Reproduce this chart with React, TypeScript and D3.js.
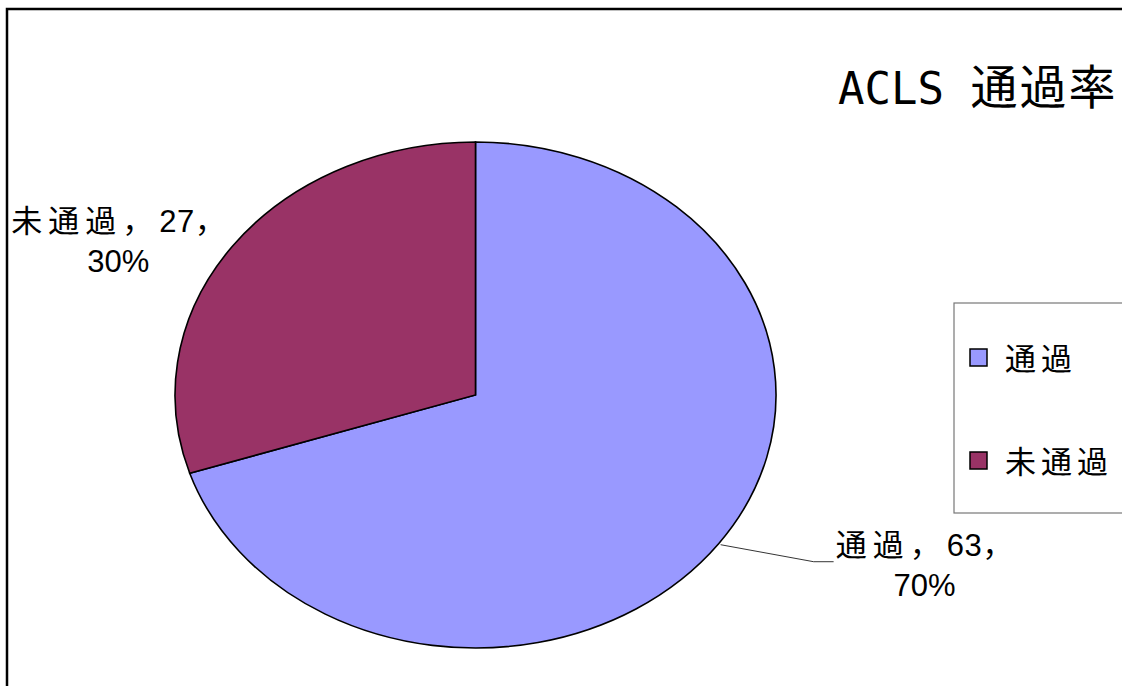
import { useEffect, useRef } from "react";
import * as d3 from "d3";

const categories = ["通過", "未通過"];
const counts = [63, 27];
const percents = ["70%", "30%"];
const COLORS = ["#9999ff", "#993366"];
const TITLE_LATIN = "ACLS ";
const TITLE_CJK = "通過率";

const W = 1122;
const H = 686;

type Datum = { name: string; value: number; pct: string };

export default function App() {
  const svgRef = useRef<SVGSVGElement>(null);

  useEffect(() => {
    if (!svgRef.current) return;
    const svg = d3.select(svgRef.current);
    svg.selectAll("*").remove();

    const labelFont = "'Liberation Sans', 'Noto Sans CJK JP', sans-serif";

    // chart area border
    svg
      .append("rect")
      .attr("x", 7)
      .attr("y", 9)
      .attr("width", W + 20)
      .attr("height", H + 20)
      .attr("fill", "#fff")
      .attr("stroke", "#000")
      .attr("stroke-width", 2.5);

    // title
    const title = svg
      .append("text")
      .attr("x", 838)
      .attr("y", 104)
      .attr("font-family", "'DejaVu Sans Mono', 'Noto Sans CJK JP', monospace")
      .attr("fill", "#000");
    title.append("tspan").attr("font-size", "44px").text(TITLE_LATIN);
    title
      .append("tspan")
      .attr("font-family", "'Noto Sans CJK JP', sans-serif")
      .attr("font-size", "47px")
      .attr("letter-spacing", "2px")
      .text(TITLE_CJK);

    const data: Datum[] = categories.map((name, i) => ({ name, value: counts[i], pct: percents[i] }));
    const cx = 475.5;
    const cy = 395;
    const rx = 300.5;
    const ry = 253;

    const pie = d3
      .pie<Datum>()
      .value((d) => d.value)
      .sort(null);
    const arcs = pie(data);

    const arc = d3.arc<d3.PieArcDatum<Datum>>().innerRadius(0).outerRadius(1);

    const g = svg
      .append("g")
      .attr("transform", `translate(${cx},${cy}) scale(${rx},${ry})`);

    g.selectAll("path")
      .data(arcs)
      .join("path")
      .attr("d", arc)
      .attr("fill", (_, i) => COLORS[i])
      .attr("stroke", "#000")
      .attr("stroke-width", 1.6)
      .attr("vector-effect", "non-scaling-stroke");

    const edge = (a: number) => [cx + rx * Math.sin(a), cy - ry * Math.cos(a)];

    const addLabel = (d: Datum, x: number, y: number) => {
      const t = svg
        .append("text")
        .attr("font-family", labelFont)
        .attr("font-size", "31px")
        .attr("fill", "#000")
        .attr("text-anchor", "middle");
      const l1 = t.append("tspan").attr("x", x).attr("y", y);
      l1.append("tspan").attr("letter-spacing", "6px").text(`${d.name}，`);
      l1.append("tspan").attr("letter-spacing", "0.5px").text(`${d.value}`);
      l1.append("tspan").text("，");
      t.append("tspan")
        .attr("x", x)
        .attr("y", y + 40)
        .text(d.pct);
    };

    // label for 通過 with leader line
    const a0 = (arcs[0].startAngle + arcs[0].endAngle) / 2;
    const [ex, ey] = edge(a0);
    svg
      .append("path")
      .attr("d", `M${ex + 2},${ey + 1} L${ex + 95},${ey + 18} L${ex + 115},${ey + 18}`)
      .attr("fill", "none")
      .attr("stroke", "#000")
      .attr("stroke-width", 0.8);
    addLabel(data[0], ex + 206, ey + 12);

    // label for 未通過
    const a1 = (arcs[1].startAngle + arcs[1].endAngle) / 2;
    const [fx, fy] = edge(a1);
    addLabel(data[1], fx - 114, fy - 14);

    // legend
    const legend = svg.append("g").attr("transform", "translate(954,303)");
    legend
      .append("rect")
      .attr("width", 200)
      .attr("height", 210)
      .attr("fill", "#fff")
      .attr("stroke", "#777")
      .attr("stroke-width", 1.2);
    data.forEach((d, i) => {
      const row = legend.append("g").attr("transform", `translate(16, ${46 + i * 103})`);
      row
        .append("rect")
        .attr("width", 17)
        .attr("height", 17)
        .attr("fill", COLORS[i])
        .attr("stroke", "#000")
        .attr("stroke-width", 1.5);
      row
        .append("text")
        .attr("x", 35)
        .attr("y", 21)
        .attr("font-family", labelFont)
        .attr("font-size", "31px")
        .attr("letter-spacing", "5px")
        .attr("fill", "#000")
        .text(d.name);
    });
  }, []);

  return (
    <svg
      ref={svgRef}
      width={W}
      height={H}
      style={{ position: "absolute", left: 0, top: 0, background: "#fff" }}
      role="img"
      aria-label="ACLS 通過率"
    />
  );
}
